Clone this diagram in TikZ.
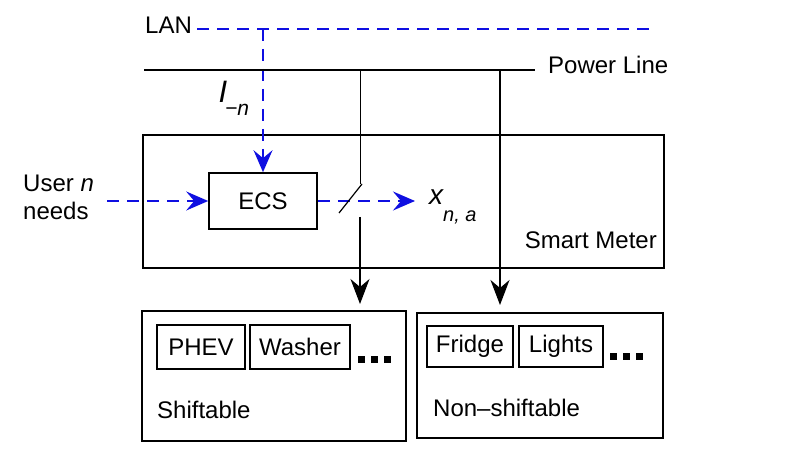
\documentclass[tikz,border=0pt]{standalone}
\usepackage{fontspec}
\setmainfont{Liberation Sans}
\usetikzlibrary{arrows.meta}
\definecolor{lanblue}{RGB}{15,15,225}
\begin{document}
\begin{tikzpicture}[x=1pt,y=-1pt,
  box/.style={draw,line width=1.6pt,inner sep=0pt,font=\fontsize{24}{28}\selectfont},
  lbl/.style={inner sep=0pt,font=\fontsize{24}{28}\selectfont},
  bluedash/.style={draw=lanblue,line width=1.8pt,dash pattern=on 12pt off 8pt},
  bluetip/.style={-{Stealth[length=22pt,width=19pt,inset=8pt,fill=lanblue]}},
  blacktip/.style={-{Stealth[length=25pt,width=19pt,inset=8pt]}},
  dotsq/.style={fill=black},
]
\useasboundingbox[fill=white] (0,0) rectangle (805,454);

% boxes
\node[box,minimum width=521pt,minimum height=133pt] (meter) at (403.5,201.5) {};
\node[lbl,anchor=east] (meterlbl) at (657,240) {Smart Meter};
\node[box,minimum width=108pt,minimum height=56pt] (ecs) at (263,201) {ECS};

\node[box,minimum width=264pt,minimum height=130pt] (shift) at (274,376) {};
\node[lbl,anchor=west] (shiftlbl) at (157,410) {Shiftable};
\node[box,minimum width=88pt,minimum height=44pt] (phev) at (201,347) {PHEV};
\node[box,minimum width=100pt,minimum height=44pt] (washer) at (300,347) {Washer};

\node[box,minimum width=246pt,minimum height=125pt] (nonshift) at (540,375.5) {};
\node[lbl,anchor=west] (nonshiftlbl) at (433,408) {Non\textendash shiftable};
\node[box,minimum width=86pt,minimum height=41pt] (fridge) at (470,346.5) {Fridge};
\node[box,minimum width=84pt,minimum height=41pt] (lights) at (561,346.5) {Lights};

% dots
\foreach \x in {358,371,384} \fill[dotsq] (\x,356) rectangle ++(7,7);
\foreach \x in {610,623,636} \fill[dotsq] (\x,353) rectangle ++(7,7);

% labels
\node[lbl] (lan) at (168.5,25) {LAN};
\node[lbl,anchor=west] (power) at (548,65) {Power Line};
\node[lbl,anchor=west,align=left] (user) at (23,197) {User \textit{n}\\needs};
\node[inner sep=0pt,font=\fontsize{31}{31}\selectfont\itshape] (ibig) at (223,92) {I};
\node[inner sep=0pt,font=\fontsize{21}{21}\selectfont\itshape,anchor=west] (isub) at (225,110) {\textminus n};
\node[inner sep=0pt,anchor=west,font=\fontsize{28}{28}\selectfont\itshape] (xna) at (429,197) {x};
\node[inner sep=0pt,anchor=west,font=\fontsize{20}{20}\selectfont\itshape] (xsub) at (443,217) {n, a};

% coordinates
\coordinate (lanL) at (197,29);
\coordinate (lanR) at (655,29);
\coordinate (lanT) at (263,29);
\coordinate (pwL) at (144,70);
\coordinate (pwR) at (535,70);
\coordinate (pwA) at (360,70);
\coordinate (pwB) at (500,70);
\coordinate (swTop) at (360,184);
\coordinate (swBot) at (360,217);
\coordinate (swS1) at (339,213);
\coordinate (swS2) at (362,184);
\coordinate (tipA) at (360,304);
\coordinate (tipB) at (500,305);
\coordinate (userR) at (107,201);
\coordinate (outTip) at (415,201);

% LAN and control flow
\draw[bluedash] (lanL) -- (lanR);
\draw[bluedash,bluetip] (lanT) -- (ecs.north);
\draw[bluedash,bluetip] (userR) -- (ecs.west);
\draw[bluedash,bluetip] (ecs.east) -- (outTip);

% power
\draw[line width=1.3pt] (pwL) -- (pwR);
\draw[line width=1pt] (pwA) -- (swTop);
\draw[line width=1.2pt] (swS1) -- (swS2);
\draw[line width=1.2pt,blacktip] (swBot) -- (tipA);
\draw[line width=2pt,blacktip] (pwB) -- (tipB);
\end{tikzpicture}
\end{document}
